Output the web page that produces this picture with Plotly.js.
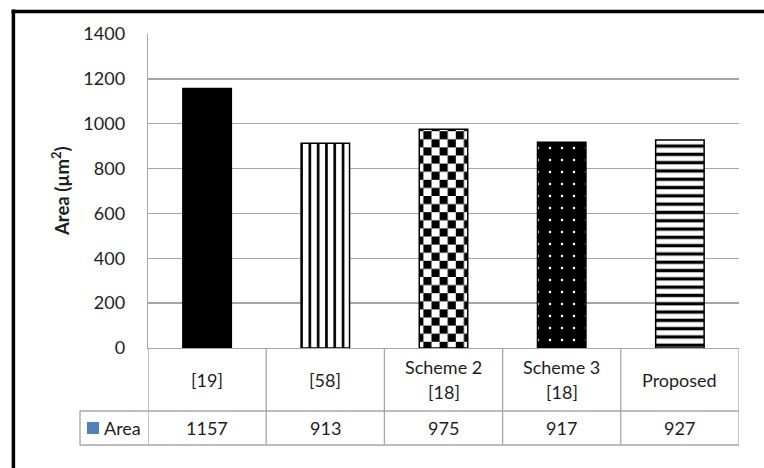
<!DOCTYPE html>
<html>
<head>
<meta charset="utf-8">
<script src="https://cdn.plot.ly/plotly-3.0.1.min.js"></script>
<style>
  html, body { margin: 0; padding: 0; background: #fff; }
  #chart { width: 764px; height: 468px; }
</style>
</head>
<body>
<div id="chart"></div>
<script>
// Chart data
const categories = ['[19]', '[58]', 'Scheme 2<br>[18]', 'Scheme 3<br>[18]', 'Proposed'];
const areaValues = [1157, 913, 975, 917, 927];
const seriesName = 'Area';
const yTickValues = [0, 200, 400, 600, 800, 1000, 1200, 1400];

const FONT = 'Lato, "Open Sans", sans-serif';
const FS = 18;
const GRID = '#a6a6a6';
const TXT = '#1e1e1e';

// Fill style of each bar (solid, vertical lines, checkerboard, dots, horizontal lines)
const barFills = [
  { bg: '#000', fg: '#000', shape: '',  size: 8,    solidity: 0.5 },
  { bg: '#fff', fg: '#000', shape: '|', size: 8.3,  solidity: 0.32 },
  { bg: '#fff', fg: '#000', shape: '+', size: 16.2, solidity: 0.5 },
  { bg: '#000', fg: '#fff', shape: '.', size: 12,   solidity: 0.035 },
  { bg: '#fff', fg: '#000', shape: '-', size: 8.3,  solidity: 0.4 }
];

// Plot box in pixels
const L = 148, R = 739, T = 34, B = 348;
const py = p => (B - p) / (B - T);   // pixel row    -> paper y
const px = p => (p - L) / (R - L);   // pixel column -> paper x

const traces = categories.map((c, i) => ({
  type: 'bar',
  x: [c],
  y: [areaValues[i]],
  name: seriesName,
  width: 0.41,
  hoverinfo: 'skip',
  showlegend: false,
  marker: {
    color: barFills[i].bg,
    line: { color: '#000', width: 1.5 },
    pattern: {
      shape: barFills[i].shape,
      fgcolor: barFills[i].fg,
      bgcolor: barFills[i].bg,
      size: barFills[i].size,
      solidity: barFills[i].solidity,
      fillmode: 'replace'
    }
  }
}));

// Data table below the bars: category row and value row
const annotations = [];
categories.forEach((c, i) => {
  const lines = c.split('<br>');
  const rows = lines.length === 1 ? [380] : [367, 391.5];
  lines.forEach((ln, k) => {
    annotations.push({
      xref: 'x', yref: 'paper', x: i, y: py(rows[k]),
      text: ln, showarrow: false, xanchor: 'center', yanchor: 'middle',
      font: { family: FONT, size: FS, color: TXT }
    });
  });
  annotations.push({
    xref: 'x', yref: 'paper', x: i, y: py(428),
    text: String(areaValues[i]), showarrow: false, xanchor: 'center', yanchor: 'middle',
    font: { family: FONT, size: FS, color: TXT }
  });
});
annotations.push({
  xref: 'paper', yref: 'paper', x: px(102), y: py(428),
  text: seriesName, showarrow: false, xanchor: 'left', yanchor: 'middle',
  font: { family: FONT, size: FS, color: TXT }
});
annotations.push({
  xref: 'paper', yref: 'paper', x: px(60), y: 0.5,
  text: '<b>Area (µm<sup>2</sup>)</b>', textangle: -90, showarrow: false,
  xanchor: 'center', yanchor: 'middle',
  font: { family: FONT, size: 18.5, color: TXT }
});

const line = (xref, x0, x1, y0, y1, color, width) => ({
  type: 'line', xref: xref, yref: 'paper', x0: x0, x1: x1, y0: y0, y1: y1,
  line: { color: color, width: width }, layer: 'above'
});

const shapes = [
  // table grid
  line('paper', px(80), 1, py(411), py(411), GRID, 1.3),
  line('paper', px(80), 1, py(445), py(445), GRID, 1.3),
  line('paper', px(80), px(80), py(411), py(445), GRID, 1.3),
  // legend key
  { type: 'rect', xref: 'paper', yref: 'paper', x0: px(87), x1: px(99), y0: py(422), y1: py(434),
    fillcolor: '#4f81bd', line: { width: 0 } },
  // outer frame
  line('paper', px(13.4), px(13.4), py(9.5), py(470), '#000', 3.5),
  line('paper', px(11.6), px(766), py(11.4), py(11.4), '#000', 3.5)
];
for (let k = 0; k <= categories.length; k++) {
  shapes.push(line('x', k - 0.5, k - 0.5, py(348), py(445), GRID, 1.3));
}

const layout = {
  width: 764, height: 468,
  margin: { l: L, r: 764 - R, t: T, b: 468 - B, pad: 0 },
  paper_bgcolor: '#fff', plot_bgcolor: '#fff',
  font: { family: FONT, color: TXT },
  barmode: 'overlay',
  xaxis: {
    type: 'category', categoryorder: 'array', categoryarray: categories,
    range: [-0.5, categories.length - 0.5],
    showticklabels: false, ticks: '', showgrid: false, zeroline: false,
    showline: true, linecolor: GRID, linewidth: 1.3, fixedrange: true
  },
  yaxis: {
    range: [0, 1400], tickvals: yTickValues, ticktext: yTickValues.map(String),
    showgrid: true, gridcolor: GRID, gridwidth: 1.3, zeroline: false,
    showline: true, linecolor: GRID, linewidth: 1.3,
    ticks: '', ticklabelstandoff: 18,
    tickfont: { family: FONT, size: FS, color: TXT }, fixedrange: true
  },
  annotations: annotations,
  shapes: shapes
};

Plotly.newPlot('chart', traces, layout, { staticPlot: true, displayModeBar: false }).then(gd => {
  // Checkerboard fill for the third bar
  const ns = 'http://www.w3.org/2000/svg';
  const defs = gd.querySelector('.main-svg defs');
  const pat = document.createElementNS(ns, 'pattern');
  pat.setAttribute('id', 'checker-fill');
  pat.setAttribute('patternUnits', 'userSpaceOnUse');
  pat.setAttribute('width', 16.2);
  pat.setAttribute('height', 16.2);
  [[0, 0, 16.2, 16.2, '#fff'], [0, 0, 8.1, 8.1, '#000'], [8.1, 8.1, 8.1, 8.1, '#000']].forEach(r => {
    const el = document.createElementNS(ns, 'rect');
    el.setAttribute('x', r[0]); el.setAttribute('y', r[1]);
    el.setAttribute('width', r[2]); el.setAttribute('height', r[3]);
    el.setAttribute('fill', r[4]);
    pat.appendChild(el);
  });
  defs.appendChild(pat);
  const bars = gd.querySelectorAll('.trace.bars');
  const p = bars[2] && bars[2].querySelector('.point path');
  if (p) p.style.fill = 'url(#checker-fill)';
});
</script>
</body>
</html>
